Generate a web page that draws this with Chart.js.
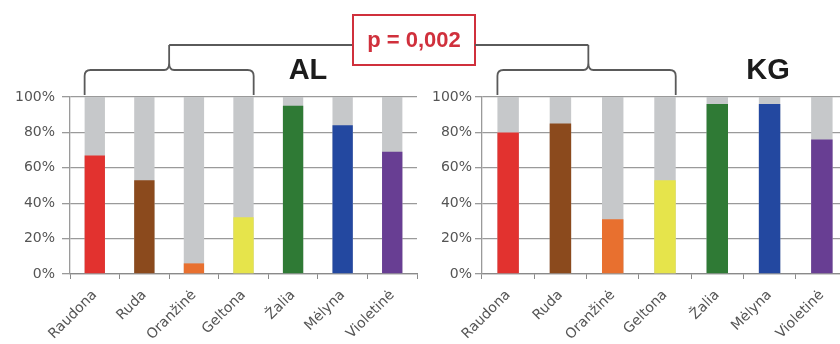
<!DOCTYPE html>
<html>
<head>
<meta charset="utf-8">
<script src="https://cdn.jsdelivr.net/npm/chart.js@4/dist/chart.umd.min.js"></script>
<style>
    html, body { margin: 0; padding: 0; background: #fff; overflow: hidden; width: 840px; height: 344px; }
    #chartAL { position: absolute; left: 0; top: 0; }
    #chartKG { position: absolute; left: 420px; top: 0; }
</style>
</head>
<body>
<canvas id="chartAL" width="840" height="344"></canvas>
<canvas id="chartKG" width="430" height="344"></canvas>
<script>
    const categories = ['Raudona', 'Ruda', 'Oranžinė', 'Geltona', 'Žalia', 'Mėlyna', 'Violetinė']
    const alValues = [67, 53, 6, 32, 95, 84, 69]
    const kgValues = [80, 85, 31, 53, 96, 96, 76]
    const totals = [100, 100, 100, 100, 100, 100, 100]
    const yTicks = [0, 20, 40, 60, 80, 100]
    const barColors = ['#e2322f', '#8b4a1d', '#e8702f', '#e6e44b', '#2f7a35', '#2348a0', '#683e93']
    const restColor = '#c6c8ca'
    const pText = 'p = 0,002'

    const lineColor = '#5a5a5a'

    // draws a curly bracket over bars [from..to], spike up to topY
    function drawBrace(ctx, x0, x1, cx, y, bottomY, topY) {
        const r = 6
        ctx.beginPath()
        ctx.moveTo(x0, bottomY)
        ctx.lineTo(x0, y + r)
        ctx.quadraticCurveTo(x0, y, x0 + r, y)
        ctx.lineTo(cx - 5, y)
        ctx.quadraticCurveTo(cx, y, cx, y - 7)
        ctx.quadraticCurveTo(cx, y, cx + 5, y)
        ctx.lineTo(x1 - r, y)
        ctx.quadraticCurveTo(x1, y, x1, y + r)
        ctx.lineTo(x1, bottomY)
        ctx.moveTo(cx, y - 7)
        ctx.lineTo(cx, topY)
        ctx.stroke()
    }

    function bracePlugin(title, titleX, withBox) {
        return {
            id: 'brace' + title,
            afterDraw(chart) {
                const ctx = chart.ctx
                const x = chart.scales.x
                const half = x.getPixelForValue(1) - x.getPixelForValue(0)
                const bw = half * 0.41 / 2
                const x0 = x.getPixelForValue(0) - bw
                const x1 = x.getPixelForValue(3) + bw
                const cx = x0 + (x1 - x0) * (withBox ? 0.5 : 0.51)
                ctx.save()
                ctx.strokeStyle = lineColor
                ctx.lineWidth = 1.8
                drawBrace(ctx, x0, x1, cx, 70, chart.chartArea.top - 2, 45)

                // connecting line to the p-value box
                ctx.beginPath()
                if (withBox) {
                    ctx.moveTo(cx, 45)
                    ctx.lineTo(353, 45)
                } else {
                    ctx.moveTo(475 - 420, 45)
                    ctx.lineTo(cx, 45)
                }
                ctx.stroke()

                if (withBox) {
                    ctx.strokeStyle = '#d0303c'
                    ctx.lineWidth = 2
                    ctx.strokeRect(353, 15, 122, 50)
                    ctx.fillStyle = '#d0303c'
                    ctx.font = 'bold 22px "Liberation Sans", Arial, sans-serif'
                    ctx.textAlign = 'center'
                    ctx.textBaseline = 'middle'
                    ctx.fillText(pText, 414, 41)
                }

                ctx.fillStyle = '#1c1c1c'
                ctx.font = 'bold 29px "Liberation Sans", Arial, sans-serif'
                ctx.textAlign = 'center'
                ctx.textBaseline = 'alphabetic'
                ctx.fillText(title, titleX, 79)
                ctx.restore()
            }
        }
    }

    function makeOptions(axisWidth, rightPad, tickLen, tickPad) {
        return {
            responsive: false,
            animation: false,
            devicePixelRatio: 1,
            layout: { padding: { top: 97, right: rightPad, bottom: 0, left: 0 } },
            plugins: { legend: { display: false }, tooltip: { enabled: false } },
            scales: {
                x: {
                    stacked: false,
                    grid: { drawOnChartArea: false, offset: true, color: '#8a8a8a', tickLength: 5, lineWidth: 1 },
                    border: { display: true, color: '#8a8a8a', width: 1.2 },
                    ticks: {
                        color: '#555',
                        font: { family: '"DejaVu Sans", sans-serif', size: 14 },
                        maxRotation: 45,
                        minRotation: 45,
                        padding: 8
                    },
                    afterFit(scale) { scale.height = 70 }
                },
                y: {
                    min: 0,
                    max: 100,
                    afterBuildTicks(scale) { scale.ticks = yTicks.map(v => ({ value: v })) },
                    grid: { color: '#9a9a9a', lineWidth: 1.3, tickLength: tickLen },
                    border: { color: '#9a9a9a', width: 1.3 },
                    ticks: {
                        color: '#555',
                        font: { family: '"DejaVu Sans", sans-serif', size: 14 },
                        padding: tickPad,
                        callback: v => v + '%'
                    },
                    afterFit(scale) { scale.width = axisWidth }
                }
            }
        }
    }

    function makeData(values) {
        return {
            labels: categories,
            datasets: [
                { data: values, backgroundColor: barColors, grouped: false, categoryPercentage: 1, barPercentage: 0.41 },
                { data: totals, backgroundColor: restColor, grouped: false, categoryPercentage: 1, barPercentage: 0.41 }
            ]
        }
    }

    new Chart(document.getElementById('chartAL').getContext('2d'), {
        type: 'bar',
        data: makeData(alValues),
        options: makeOptions(70, 423, 8, 7),
        plugins: [bracePlugin('AL', 308, true)]
    })

    new Chart(document.getElementById('chartKG').getContext('2d'), {
        type: 'bar',
        data: makeData(kgValues),
        options: makeOptions(62, 2, 7, 3),
        plugins: [bracePlugin('KG', 768 - 420, false)]
    })
</script>
</body>
</html>
